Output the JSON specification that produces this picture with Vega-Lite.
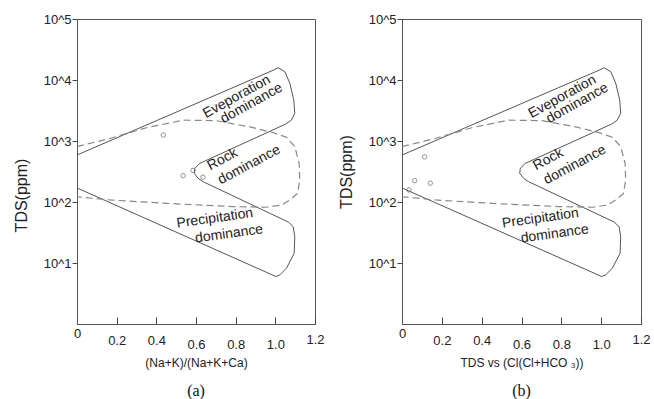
{
  "$schema": "https://vega.github.io/schema/vega-lite/v6.json",
  "background": "white",
  "padding": {"left": 12, "top": 12, "right": 0, "bottom": 0},
  "spacing": 12,
  "config": {
    "font": "Liberation Sans",
    "view": {"stroke": "#555", "strokeWidth": 1},
    "axis": {"grid": false, "domainColor": "#555", "tickColor": "#444", "labelColor": "#222", "titleColor": "#222", "titleFontWeight": "normal", "labelFontSize": 13, "titleFontSize": 12, "labelFont": "Liberation Sans", "titleFont": "Liberation Sans", "labelOverlap": false},
    "title": {"font": "Liberation Serif", "fontSize": 16, "fontWeight": "normal", "color": "#111"}
  },
  "datasets": {
    "outline": [
      {"order": 1, "x": 0, "tds": 589},
      {"order": 2, "x": 0.99, "tds": 14500},
      {"order": 3, "x": 1.014, "tds": 15900},
      {"order": 4, "x": 1.048, "tds": 13700},
      {"order": 5, "x": 1.073, "tds": 8900},
      {"order": 6, "x": 1.093, "tds": 4700},
      {"order": 7, "x": 1.098, "tds": 2840},
      {"order": 8, "x": 1.081, "tds": 2200},
      {"order": 9, "x": 1.053, "tds": 1900},
      {"order": 10, "x": 0.62, "tds": 431},
      {"order": 11, "x": 0.594, "tds": 357},
      {"order": 12, "x": 0.591, "tds": 295},
      {"order": 13, "x": 0.611, "tds": 244},
      {"order": 14, "x": 0.636, "tds": 215},
      {"order": 15, "x": 1.065, "tds": 47},
      {"order": 16, "x": 1.09, "tds": 39.5},
      {"order": 17, "x": 1.098, "tds": 27},
      {"order": 18, "x": 1.095, "tds": 14.4},
      {"order": 19, "x": 1.056, "tds": 8.2},
      {"order": 20, "x": 1.023, "tds": 6.4},
      {"order": 21, "x": 1.003, "tds": 6},
      {"order": 22, "x": 0, "tds": 170}
    ],
    "envelope": [
      {"order": 1, "x": 0, "tds": 810},
      {"order": 2, "x": 0.166, "tds": 1100},
      {"order": 3, "x": 0.35, "tds": 1650},
      {"order": 4, "x": 0.536, "tds": 2200},
      {"order": 5, "x": 0.704, "tds": 2150},
      {"order": 6, "x": 0.872, "tds": 1700},
      {"order": 7, "x": 0.989, "tds": 1370},
      {"order": 8, "x": 1.056, "tds": 1150},
      {"order": 9, "x": 1.098, "tds": 810},
      {"order": 10, "x": 1.12, "tds": 430},
      {"order": 11, "x": 1.123, "tds": 230},
      {"order": 12, "x": 1.112, "tds": 138},
      {"order": 13, "x": 1.073, "tds": 108},
      {"order": 14, "x": 1.031, "tds": 89},
      {"order": 15, "x": 0.955, "tds": 82},
      {"order": 16, "x": 0.787, "tds": 84},
      {"order": 17, "x": 0.452, "tds": 95},
      {"order": 18, "x": 0.166, "tds": 108},
      {"order": 19, "x": 0, "tds": 122}
    ],
    "pts_a": [
      {"x": 0.435, "tds": 1250},
      {"x": 0.535, "tds": 270},
      {"x": 0.585, "tds": 330},
      {"x": 0.635, "tds": 255}
    ],
    "pts_b": [
      {"x": 0.114, "tds": 550},
      {"x": 0.064, "tds": 224},
      {"x": 0.142, "tds": 204},
      {"x": 0.035, "tds": 158}
    ],
    "labels": [
      {"region": "evap", "word": "Eveporation", "x": 0.805, "tds": 5320},
      {"region": "evap", "word": "dominance", "x": 0.88, "tds": 4150},
      {"region": "rock", "word": "Rock", "x": 0.734, "tds": 500},
      {"region": "rock", "word": "dominance", "x": 0.868, "tds": 405},
      {"region": "prec", "word": "Precipitation", "x": 0.695, "tds": 54},
      {"region": "prec", "word": "dominance", "x": 0.767, "tds": 30}
    ]
  },
  "hconcat": [
    {
      "width": 238,
      "height": 305,
      "title": {"text": "(a)", "orient": "bottom", "offset": 15},
      "layer": [
        {
          "data": {"name": "outline"},
          "mark": {"type": "line", "color": "#555", "strokeWidth": 1},
          "encoding": {
            "x": {"field": "x", "type": "quantitative", "scale": {"domain": [0, 1.2], "nice": false, "zero": false},
              "axis": {"title": "(Na+K)/(Na+K+Ca)", "values": [0, 0.2, 0.4, 0.6, 0.8, 1, 1.2], "tickCount": 20, "labelExpr": "datum.value == 0 ? '0' : format(datum.value, '.1f')", "labelOverlap": false, "tickSize": -7, "tickWidth": 1, "labelFlush": false, "titlePadding": 6,
                "labelPadding": {"condition": [{"test": "datum.value < 0.1", "value": 10}, {"test": "datum.value > 0.5 && datum.value < 1.1", "value": 21}, {"test": "datum.value > 1.1", "value": 16}], "value": 17}}},
            "y": {"field": "tds", "type": "quantitative", "scale": {"type": "log", "domain": [1, 100000], "nice": false},
              "axis": {"title": "TDS(ppm)", "values": [10, 100, 1000, 10000, 100000], "tickCount": 20, "labelExpr": "'10^' + round(log(datum.value)/LN10)", "labelOverlap": false, "tickSize": 5, "labelPadding": 1, "titlePadding": 14, "titleFontSize": 16, "titleY": 176, "labelFlush": false}},
            "order": {"field": "order"}
          }
        },
        {
          "data": {"name": "envelope"},
          "mark": {"type": "line", "color": "#888", "strokeWidth": 1.2, "strokeDash": [7, 4]},
          "encoding": {
            "x": {"field": "x", "type": "quantitative"},
            "y": {"field": "tds", "type": "quantitative"},
            "order": {"field": "order"}
          }
        },
        {
          "data": {"name": "pts_a"},
          "mark": {"type": "point", "shape": "circle", "filled": false, "size": 20, "stroke": "#666", "strokeWidth": 1},
          "encoding": {
            "x": {"field": "x", "type": "quantitative"},
            "y": {"field": "tds", "type": "quantitative"}
          }
        },
        {
          "data": {"name": "labels"},
          "transform": [{"filter": "datum.region == 'evap'"}],
          "mark": {"type": "text", "angle": 331, "fontSize": 14, "color": "#222"},
          "encoding": {"x": {"field": "x", "type": "quantitative"}, "y": {"field": "tds", "type": "quantitative"}, "text": {"field": "word"}}
        },
        {
          "data": {"name": "labels"},
          "transform": [{"filter": "datum.region == 'rock'"}],
          "mark": {"type": "text", "angle": 332, "fontSize": 14, "color": "#222"},
          "encoding": {"x": {"field": "x", "type": "quantitative"}, "y": {"field": "tds", "type": "quantitative"}, "text": {"field": "word"}}
        },
        {
          "data": {"name": "labels"},
          "transform": [{"filter": "datum.region == 'prec'"}],
          "mark": {"type": "text", "angle": 352, "fontSize": 14, "color": "#222"},
          "encoding": {"x": {"field": "x", "type": "quantitative"}, "y": {"field": "tds", "type": "quantitative"}, "text": {"field": "word"}}
        }
      ]
    },
    {
      "width": 239,
      "height": 305,
      "title": {"text": "(b)", "orient": "bottom", "offset": 15},
      "layer": [
        {
          "data": {"name": "outline"},
          "mark": {"type": "line", "color": "#555", "strokeWidth": 1},
          "encoding": {
            "x": {"field": "x", "type": "quantitative", "scale": {"domain": [0, 1.2], "nice": false, "zero": false},
              "axis": {"title": "TDS vs (Cl(Cl+HCO ₃))", "values": [0, 0.2, 0.4, 0.6, 0.8, 1, 1.2], "tickCount": 20, "labelExpr": "datum.value == 0 ? '0' : format(datum.value, '.1f')", "labelOverlap": false, "tickSize": -7, "tickWidth": 1, "labelFlush": false, "titlePadding": 6,
                "labelPadding": {"condition": [{"test": "datum.value < 0.1", "value": 10}, {"test": "datum.value > 0.5 && datum.value < 1.1", "value": 21}, {"test": "datum.value > 1.1", "value": 16}], "value": 17}}},
            "y": {"field": "tds", "type": "quantitative", "scale": {"type": "log", "domain": [1, 100000], "nice": false},
              "axis": {"title": "TDS(ppm)", "values": [10, 100, 1000, 10000, 100000], "tickCount": 20, "labelExpr": "'10^' + round(log(datum.value)/LN10)", "labelOverlap": false, "tickSize": 5, "labelPadding": 1, "titlePadding": 14, "titleFontSize": 16, "labelFlush": false}},
            "order": {"field": "order"}
          }
        },
        {
          "data": {"name": "envelope"},
          "mark": {"type": "line", "color": "#888", "strokeWidth": 1.2, "strokeDash": [7, 4]},
          "encoding": {
            "x": {"field": "x", "type": "quantitative"},
            "y": {"field": "tds", "type": "quantitative"},
            "order": {"field": "order"}
          }
        },
        {
          "data": {"name": "pts_b"},
          "mark": {"type": "point", "shape": "circle", "filled": false, "size": 20, "stroke": "#666", "strokeWidth": 1},
          "encoding": {
            "x": {"field": "x", "type": "quantitative"},
            "y": {"field": "tds", "type": "quantitative"}
          }
        },
        {
          "data": {"name": "labels"},
          "transform": [{"filter": "datum.region == 'evap'"}],
          "mark": {"type": "text", "angle": 331, "fontSize": 14, "color": "#222"},
          "encoding": {"x": {"field": "x", "type": "quantitative"}, "y": {"field": "tds", "type": "quantitative"}, "text": {"field": "word"}}
        },
        {
          "data": {"name": "labels"},
          "transform": [{"filter": "datum.region == 'rock'"}],
          "mark": {"type": "text", "angle": 332, "fontSize": 14, "color": "#222"},
          "encoding": {"x": {"field": "x", "type": "quantitative"}, "y": {"field": "tds", "type": "quantitative"}, "text": {"field": "word"}}
        },
        {
          "data": {"name": "labels"},
          "transform": [{"filter": "datum.region == 'prec'"}],
          "mark": {"type": "text", "angle": 352, "fontSize": 14, "color": "#222"},
          "encoding": {"x": {"field": "x", "type": "quantitative"}, "y": {"field": "tds", "type": "quantitative"}, "text": {"field": "word"}}
        }
      ]
    }
  ]
}
